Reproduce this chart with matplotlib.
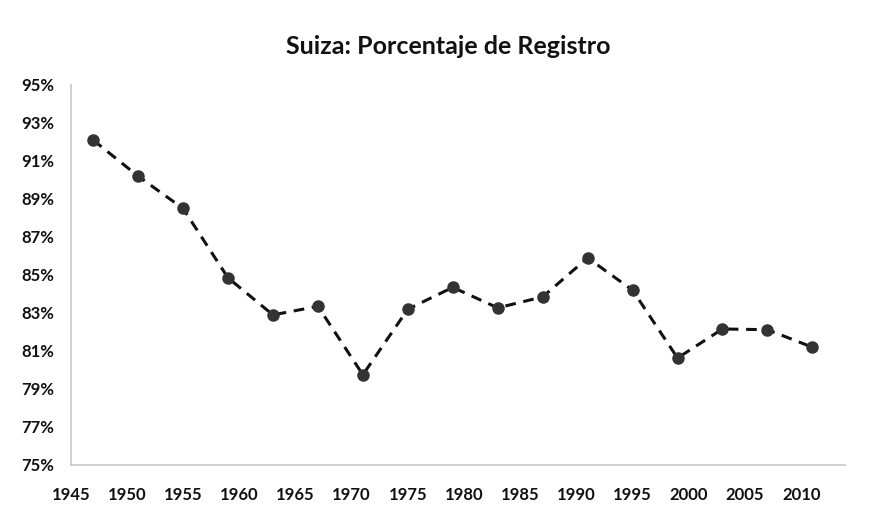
import matplotlib
matplotlib.use("Agg")
import matplotlib.pyplot as plt
from matplotlib.ticker import FuncFormatter

# Swiss federal elections, registration turnout (%)
years = [1947, 1951, 1955, 1959, 1963, 1967, 1971, 1975, 1979,
         1983, 1987, 1991, 1995, 1999, 2003, 2007, 2011]
registro = [92.1, 90.2, 88.5, 84.85, 82.9, 83.35, 79.75, 83.2, 84.35,
            83.27, 83.85, 85.9, 84.2, 80.63, 82.16, 82.12, 81.2]

xticks = list(range(1945, 2011, 5))
yticks = list(range(75, 96, 2))

plt.rcParams["font.family"] = ["Lato", "DejaVu Sans"]

fig = plt.figure(figsize=(8.77, 5.12), dpi=100)
ax = fig.add_axes([0.0806, 0.0918, 0.8829, 0.7422])

ax.plot(years, registro, linestyle=(0, (3.5, 2.5)), color="#111111", linewidth=2.2,
        marker="o", markersize=8, markerfacecolor="#333333", markeredgecolor="#333333")

ax.set_xlim(1945.2, 2013.9)
ax.set_ylim(75, 95)
ax.set_xticks(xticks)
ax.set_yticks(yticks)
ax.yaxis.set_major_formatter(FuncFormatter(lambda v, p: "%d%%" % v))

for side in ["top", "right"]:
    ax.spines[side].set_visible(False)
for side in ["left", "bottom"]:
    ax.spines[side].set_color("#c8c8c8")
    ax.spines[side].set_linewidth(1.2)

ax.tick_params(axis="both", length=0, labelsize=12, colors="#111111")
ax.tick_params(axis="y", pad=12)
ax.tick_params(axis="x", pad=16)
for lbl in ax.get_xticklabels() + ax.get_yticklabels():
    lbl.set_fontweight("bold")

fig.text(0.511, 0.91, "Suiza: Porcentaje de Registro", ha="center", va="center",
         fontsize=18, fontweight="bold", color="#111111")

fig.savefig("out.png", dpi=100)
